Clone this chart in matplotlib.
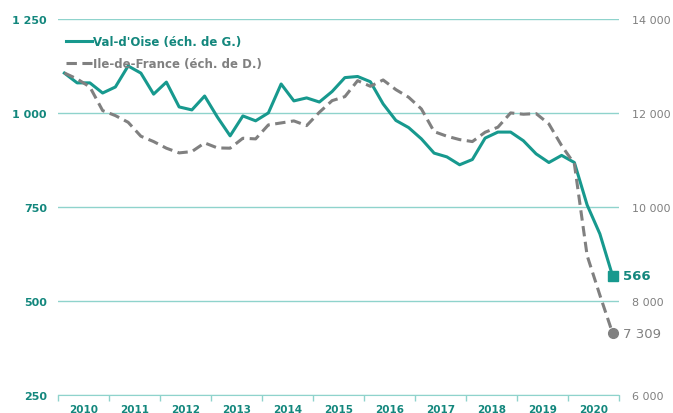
import matplotlib.pyplot as plt
import numpy as np

# ------ Data (quarterly, 2010 Q1 -> 2020 Q4) ------
years = list(range(2010, 2021))

val_doise = [1106, 1080, 1080, 1053, 1069, 1125, 1106, 1050, 1082, 1016, 1008,
             1045, 989, 939, 992, 979, 1000, 1077, 1032, 1040, 1029, 1057,
             1094, 1097, 1083, 1024, 980, 961, 931, 893, 883, 862, 876,
             933, 949, 949, 926, 891, 868, 887, 868, 755, 678, 566]

idf = [12851, 12723, 12553, 12050, 11943, 11801, 11504, 11390, 11249, 11149,
       11177, 11362, 11255, 11249, 11461, 11447, 11745, 11787, 11830, 11730,
       12014, 12262, 12347, 12687, 12567, 12702, 12496, 12334, 12085, 11602,
       11504, 11432, 11390, 11589, 11696, 12000, 11972, 11986, 11766, 11304,
       10915, 8963, 8120, 7309]

left_ticks = [250, 500, 750, 1000, 1250]
right_ticks = [6000, 8000, 10000, 12000, 14000]

TEAL = "#17998e"
TEAL_TXT = "#13877d"
GRID = "#8fd3cc"
GREY = "#808080"


def fmt(v):
    return f"{v:,}".replace(",", " ")


plt.rcParams['font.family'] = ['DejaVu Sans']

fig = plt.figure(figsize=(6.73, 4.14), dpi=100)
ax = fig.add_axes([58 / 673, 18.3 / 414, 561 / 673, 375.7 / 414])
ax2 = ax.twinx()

x = np.arange(len(val_doise)) + 0.5

ax.plot(x, val_doise, color=TEAL, lw=2.2, zorder=3,
        label="Val-d'Oise (éch. de G.)")
ax.plot(x[-1], val_doise[-1], marker="s", ms=7, color=TEAL, zorder=4)
ax.text(x[-1] + 0.8, val_doise[-1], fmt(val_doise[-1]), color=TEAL_TXT,
        fontsize=9.5, fontweight="bold", va="center", ha="left")

ax2.plot(x, idf, color=GREY, lw=2.2, ls=(0, (3.4, 1.8)), zorder=3,
         label="Ile-de-France (éch. de D.)")
ax2.plot(x[-1], idf[-1], marker="o", ms=7, color=GREY, zorder=4)
ax2.text(x[-1] + 0.8, idf[-1], fmt(idf[-1]), color=GREY,
         fontsize=9.5, va="center", ha="left")

# ------ Axes ------
ax.set_xlim(0, len(val_doise))
ax.set_ylim(250, 1250)
ax2.set_ylim(6000, 14000)

ax.set_yticks(left_ticks)
ax.set_yticklabels([fmt(v) for v in left_ticks],
                   color=TEAL_TXT, fontsize=8, fontweight="bold")
ax2.set_yticks(right_ticks)
ax2.set_yticklabels([fmt(v) for v in right_ticks], color=GREY, fontsize=8)

ax.set_xticks(np.arange(0, 45, 4))
ax.set_xticklabels([])
ax.set_xticks(np.arange(2, 44, 4), minor=True)
ax.set_xticklabels([str(y) for y in years], minor=True, color=TEAL_TXT,
                   fontsize=7.5, fontweight="bold")
ax.tick_params(axis="x", which="major", length=4, color=GRID, width=1)
ax.tick_params(axis="x", which="minor", length=0, pad=7)
ax.tick_params(axis="y", length=0, pad=8)
ax2.tick_params(axis="y", length=0, pad=9)

ax.grid(axis="y", color=GRID, lw=1)
ax.set_axisbelow(True)
for a in (ax, ax2):
    for s in a.spines.values():
        s.set_visible(False)
ax.spines["bottom"].set_visible(True)
ax.spines["bottom"].set_color(GRID)

# ------ Legend ------
h1, l1 = ax.get_legend_handles_labels()
h2, l2 = ax2.get_legend_handles_labels()
leg = ax2.legend(h1 + h2, l1 + l2, loc="upper left", bbox_to_anchor=(0.0, 0.98),
                 frameon=False, fontsize=8.5, handlelength=2.2,
                 handletextpad=0.1, labelspacing=0.8, borderaxespad=0.3)
leg.get_texts()[0].set_color(TEAL_TXT)
leg.get_texts()[0].set_fontweight("bold")
leg.get_texts()[1].set_color(GREY)
leg.get_texts()[1].set_fontweight("bold")

fig.savefig("out.png", dpi=100)
